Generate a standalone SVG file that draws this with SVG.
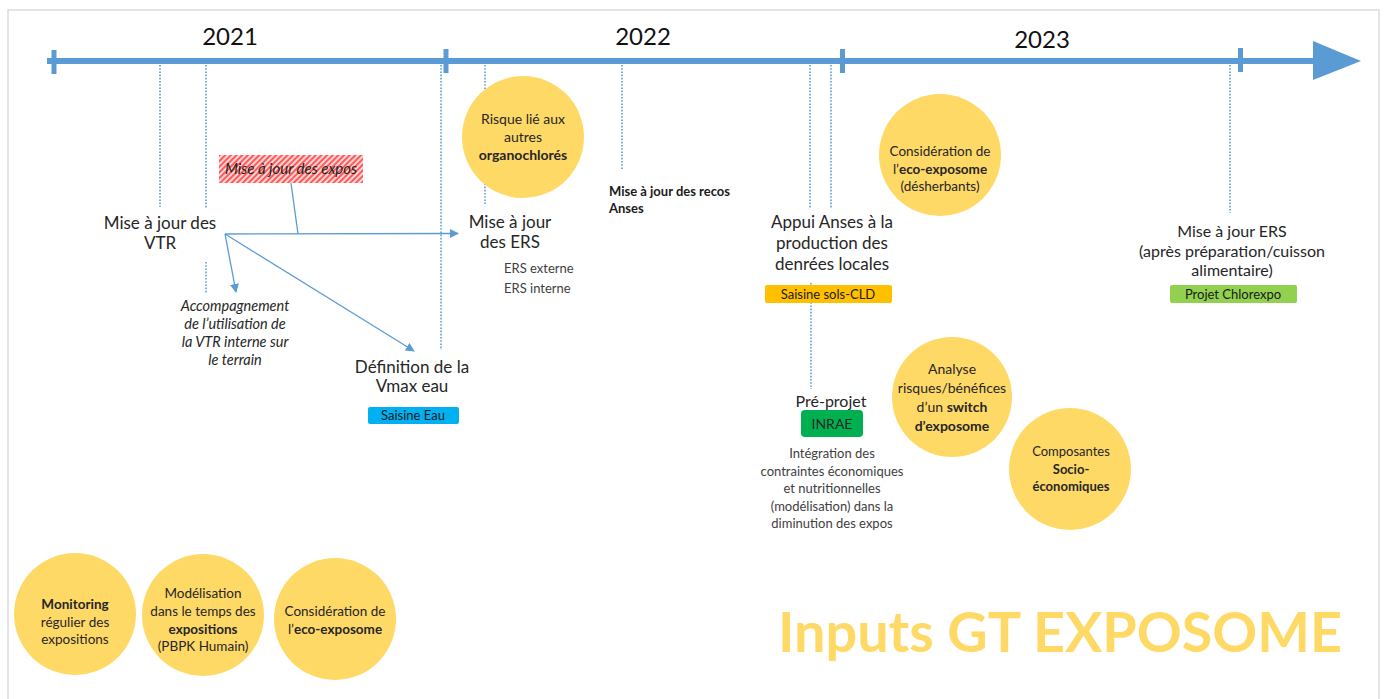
<svg xmlns="http://www.w3.org/2000/svg" width="1386" height="699" viewBox="0 0 1386 699">
<defs>
<style>
text{font-family:Lato,"Open Sans","Liberation Sans",sans-serif;fill:#262626;text-anchor:middle}
.yr{font-size:24px;fill:#111}
.lg{font-size:17px}
.md{font-size:16px}
.sm{font-size:13px;fill:#404040}
.cs{font-size:13.5px}
.ci{font-size:14px}
.b{font-weight:bold}
.it{font-style:italic;font-size:14.5px}
.lt{text-anchor:start}
.circ{fill:#FFD966}
.dot{stroke:#5B9BD5;stroke-width:1.6;stroke-dasharray:1.6 1.6;fill:none}
.con{stroke:#5B9BD5;stroke-width:1.3;fill:none}
.tl{fill:#5B9BD5}
</style>
<marker id="ah" viewBox="0 0 10 10" refX="9" refY="5" markerWidth="9" markerHeight="9" markerUnits="userSpaceOnUse" orient="auto">
<path d="M0,0 L10,5 L0,10 z" fill="#5B9BD5"/>
</marker>
<pattern id="hatch" width="4" height="4" patternUnits="userSpaceOnUse" patternTransform="rotate(45)">
<rect width="4" height="4" fill="#FFD6D6"/>
<rect width="2" height="4" fill="#FF5A5A"/>
</pattern>
</defs>
<rect x="0" y="0" width="1386" height="699" fill="#fff"/>
<rect x="8" y="10" width="1371" height="700" fill="none" stroke="#DCDCDC" stroke-width="1.5"/>

<g id="timeline">
<rect class="tl" x="47" y="58" width="1268" height="6"/>
<polygon class="tl" points="1313,41 1361,61 1313,80"/>
<rect class="tl" x="51.5" y="50" width="5" height="24"/>
<rect class="tl" x="443.5" y="49" width="5" height="24"/>
<rect class="tl" x="840" y="49" width="5" height="24"/>
<rect class="tl" x="1238" y="48" width="5" height="24"/>
<text class="yr" x="230" y="45">2021</text>
<text class="yr" x="643" y="45">2022</text>
<text class="yr" x="1042" y="48">2023</text>
</g>

<g id="connectors">
<line class="dot" x1="160" y1="65" x2="160" y2="207"/>
<line class="dot" x1="206" y1="65" x2="206" y2="208"/>
<line class="dot" x1="206" y1="262" x2="206" y2="293"/>
<line class="dot" x1="441" y1="65" x2="441" y2="350"/>
<line class="dot" x1="485" y1="65" x2="485" y2="204"/>
<line class="dot" x1="622" y1="65" x2="622" y2="169"/>
<line class="dot" x1="810" y1="65" x2="810" y2="208"/>
<line class="dot" x1="811" y1="283" x2="811" y2="389"/>
<line class="dot" x1="831" y1="65" x2="831" y2="208"/>
<line class="dot" x1="1230" y1="65" x2="1230" y2="213"/>
<line class="con" x1="291" y1="183" x2="298" y2="234"/>
<line class="con" x1="225" y1="234" x2="458" y2="233.5" marker-end="url(#ah)"/>
<line class="con" x1="225" y1="234" x2="236" y2="292" marker-end="url(#ah)"/>
<line class="con" x1="225" y1="234" x2="414" y2="351" marker-end="url(#ah)"/>
</g>

<g id="vtr">
<text class="lg" x="160" y="229">Mise à jour des</text>
<text class="lg" x="160" y="249">VTR</text>
</g>

<g id="expos">
<rect x="219" y="155" width="144" height="28" fill="url(#hatch)"/>
<text class="it" x="291" y="174" style="font-size:15px;fill:#222">Mise à jour des expos</text>
</g>

<g id="accompagnement">
<text class="it" x="235" y="311">Accompagnement</text>
<text class="it" x="235" y="329">de l’utilisation de</text>
<text class="it" x="235" y="347">la VTR interne sur</text>
<text class="it" x="235" y="365">le terrain</text>
</g>

<g id="vmax">
<text class="lg" x="412" y="373">Définition de la</text>
<text class="lg" x="412" y="392">Vmax eau</text>
<rect x="368" y="407" width="91" height="17" rx="2" fill="#00B0F0"/>
<text class="sm" x="413" y="420" style="fill:#1a1a1a">Saisine Eau</text>
</g>

<g id="organochlores">
<circle class="circ" cx="523" cy="137" r="61"/>
<text class="ci" x="523" y="124">Risque lié aux</text>
<text class="ci" x="523" y="142">autres</text>
<text class="ci b" x="523" y="160">organochlorés</text>
</g>

<g id="ers">
<text class="lg" x="510" y="228">Mise à jour</text>
<text class="lg" x="510" y="248">des ERS</text>
<text class="sm lt" x="504" y="273">ERS externe</text>
<text class="sm lt" x="504" y="293">ERS interne</text>
</g>

<g id="recos">
<text class="sm b lt" x="609" y="196" style="fill:#1a1a1a">Mise à jour des recos</text>
<text class="sm b lt" x="609" y="213" style="fill:#1a1a1a">Anses</text>
</g>

<g id="appui">
<text class="lg" x="832" y="228">Appui Anses à la</text>
<text class="lg" x="832" y="249">production des</text>
<text class="lg" x="832" y="270">denrées locales</text>
<rect x="765" y="285" width="127" height="18" rx="2" fill="#FFC000"/>
<text class="sm" x="828" y="299" style="fill:#1a1a1a">Saisine sols-CLD</text>
</g>

<g id="eco-desherbants">
<circle class="circ" cx="940" cy="155" r="61"/>
<text class="cs" x="940" y="156">Considération de</text>
<text class="cs" x="940" y="174">l’<tspan class="b">eco-exposome</tspan></text>
<text class="cs" x="940" y="191">(désherbants)</text>
</g>

<g id="inrae">
<text class="md" x="831" y="407">Pré-projet</text>
<rect x="801" y="410" width="62" height="27" rx="4" fill="#00B050"/>
<text class="ci" x="832" y="429">INRAE</text>
<text class="sm" x="832" y="458">Intégration des</text>
<text class="sm" x="832" y="476">contraintes économiques</text>
<text class="sm" x="832" y="493">et nutritionnelles</text>
<text class="sm" x="832" y="511">(modélisation) dans la</text>
<text class="sm" x="832" y="528">diminution des expos</text>
</g>

<g id="switch">
<circle class="circ" cx="952" cy="397" r="60"/>
<text class="ci" x="952" y="374">Analyse</text>
<text class="ci" x="952" y="393">risques/bénéfices</text>
<text class="ci" x="952" y="412">d’un <tspan class="b">switch</tspan></text>
<text class="ci b" x="952" y="431">d’exposome</text>
</g>

<g id="socio">
<circle class="circ" cx="1070" cy="469" r="61"/>
<text class="sm" x="1071" y="456" style="fill:#262626">Composantes</text>
<text class="sm b" x="1071" y="474" style="fill:#262626">Socio-</text>
<text class="sm b" x="1071" y="491" style="fill:#262626">économiques</text>
</g>

<g id="ers-cuisson">
<text class="md" x="1232" y="237">Mise à jour ERS</text>
<text class="md" x="1232" y="257">(après préparation/cuisson</text>
<text class="md" x="1232" y="276">alimentaire)</text>
<rect x="1170" y="285" width="127" height="18" rx="2" fill="#92D050"/>
<text class="sm" x="1233" y="299" style="fill:#1a1a1a">Projet Chlorexpo</text>
</g>

<g id="monitoring">
<circle class="circ" cx="75" cy="614" r="61"/>
<text class="cs b" x="75" y="609">Monitoring</text>
<text class="cs" x="75" y="627">régulier des</text>
<text class="cs" x="75" y="644">expositions</text>
</g>

<g id="pbpk">
<circle class="circ" cx="203" cy="615" r="61"/>
<text class="cs" x="203" y="598">Modélisation</text>
<text class="cs" x="203" y="616">dans le temps des</text>
<text class="cs b" x="203" y="634">expositions</text>
<text class="cs" x="203" y="651">(PBPK Humain)</text>
</g>

<g id="eco-exposome">
<circle class="circ" cx="335" cy="619" r="61"/>
<text class="cs" x="335" y="616">Considération de</text>
<text class="cs" x="335" y="634">l’<tspan class="b">eco-exposome</tspan></text>
</g>

<g id="title">
<text x="778" y="652" textLength="564" lengthAdjust="spacingAndGlyphs" style="font-size:56px;font-weight:bold;fill:#FFD966;text-anchor:start">Inputs GT EXPOSOME</text>
</g>
</svg>
